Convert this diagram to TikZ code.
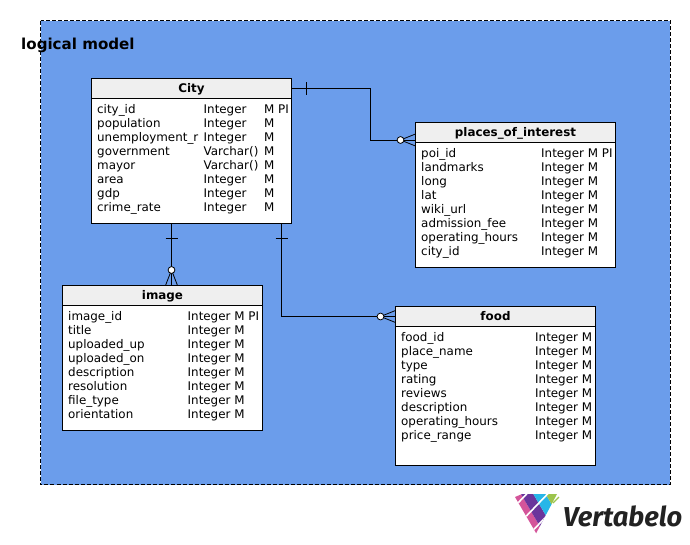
\documentclass[tikz,border=0pt]{standalone}
\usepackage{fontspec}
\setmainfont{DejaVu Sans}
\newfontfamily\logofont{Fira Sans}
\definecolor{areablue}{HTML}{6B9DEB}
\definecolor{headgrey}{HTML}{EFEFEF}
\definecolor{lgpink}{HTML}{D4559A}
\definecolor{lgpurple}{HTML}{6A359C}
\definecolor{lgcyan}{HTML}{27B6E8}
\definecolor{lggreen}{HTML}{9CC44C}
\definecolor{lgtext}{HTML}{222222}
\tikzset{
  x=1pt,y=-1pt,
  area/.style={draw=black,dash pattern=on 4pt off 2pt,fill=areablue,line width=0.8pt},
  tablebox/.style={draw=black,fill=white,line width=0.9pt,minimum width=200pt,anchor=north west,inner sep=0pt,outer sep=0pt},
  tablehead/.style={draw=black,fill=headgrey,line width=0.9pt,minimum width=200pt,minimum height=20pt,text height=9.5pt,text depth=1pt,anchor=north west,inner sep=0pt,outer sep=0pt,font=\fontsize{11.9}{13}\selectfont\bfseries},
  celltext/.style={anchor=base west,inner sep=0pt,font=\fontsize{11.9}{13}\selectfont},
  link/.style={draw=black,line width=0.9pt},
  prong/.style={draw=black,line width=0.8pt},
  opt/.style={draw=black,fill=white,line width=0.8pt},
  lgstripe/.style={white,line width=1.6pt},
}
\newcommand{\rowlist}[4]{% x1, first baseline, x2, list
  \foreach \na/\ty [count=\i from 0] in {#4}{
    \node[celltext] at (#1,#2+\i*14) {\na};
    \node[celltext] at (#3,#2+\i*14) {\ty};
  }
}
% logo cell: u0,v0,u1,v1,colour
\newcommand{\lgcell}[5]{
  \fill[#5] (515+4.8*#1+7*#2,497-5*#1+12*#2) -- (515+4.8*#3+7*#2,497-5*#3+12*#2)
    -- (515+4.8*#3+7*#4,497-5*#3+12*#4) -- (515+4.8*#1+7*#4,497-5*#1+12*#4) -- cycle;
}
\begin{document}
\begin{tikzpicture}
\useasboundingbox (0,0) rectangle (690,544);
\fill[white] (0,0) rectangle (690,544);
\draw[area] (40.5,20.5) rectangle (670,484.5);
\node[anchor=base west,inner sep=0pt,font=\fontsize{15.1}{17}\selectfont\bfseries] (title) at (21,49) {logical model};

% tables
\node[tablebox,minimum height=144.5pt] (city) at (91.5,78.5) {};
\node[tablehead] (cityhead) at (91.5,78.5) {City};
\node[tablebox,minimum height=145pt] (places) at (415.5,122.5) {};
\node[tablehead] (placeshead) at (415.5,122.5) {places\_of\_interest};
\node[tablebox,minimum height=145pt] (image) at (62.5,285.5) {};
\node[tablehead] (imagehead) at (62.5,285.5) {image};
\node[tablebox,minimum height=159pt] (food) at (395.5,306.5) {};
\node[tablehead] (foodhead) at (395.5,306.5) {food};

\rowlist{97}{113}{203.5}{city\_id/Integer,population/Integer,unemployment\_r/Integer,government/Varchar(),mayor/Varchar(),area/Integer,gdp/Integer,crime\_rate/Integer}
\foreach \i in {0,...,7}{\node[celltext] at (264,113+\i*14) {M};}
\node[celltext] at (278,113) {PI};
\rowlist{421}{157}{541}{poi\_id/Integer M PI,landmarks/Integer M,long/Integer M,lat/Integer M,wiki\_url/Integer M,admission\_fee/Integer M,operating\_hours/Integer M,city\_id/Integer M}
\rowlist{68}{320}{187.5}{image\_id/Integer M PI,title/Integer M,uploaded\_up/Integer M,uploaded\_on/Integer M,description/Integer M,resolution/Integer M,file\_type/Integer M,orientation/Integer M}
\rowlist{401}{341}{535}{food\_id/Integer M,place\_name/Integer M,type/Integer M,rating/Integer M,reviews/Integer M,description/Integer M,operating\_hours/Integer M,price\_range/Integer M}

% connector ends
\coordinate (pIn) at (415.5,140);
\coordinate (iIn) at (171.5,285.5);
\coordinate (cOut) at (281.5,223);
\coordinate (cDown) at (171.5,223);
\coordinate (fIn) at (395.5,316.5);

% city - places
\draw[link] (cityhead.east) -- (370.5,88.5) -- (370.5,140) -- (pIn);
\draw[link] (306,82) -- (306,95);
\draw[prong] (400.5,140) -- (415.5,134) (400.5,140) -- (415.5,146);
\draw[opt] (400.5,140) circle (3.4);
% city - image
\draw[link] (cDown) -- (iIn);
\draw[link] (165.5,238.5) -- (177.5,238.5);
\draw[prong] (171.5,270) -- (165.5,285.5) (171.5,270) -- (177.5,285.5);
\draw[opt] (171.5,270) circle (3.4);
% city - food
\draw[link] (cOut) -- (281.5,316.5) -- (fIn);
\draw[link] (275.5,238.5) -- (288,238.5);
\draw[prong] (380.5,316.5) -- (395.5,310.5) (380.5,316.5) -- (395.5,322.5);
\draw[opt] (380.5,316.5) circle (3.4);

% logo
\begin{scope}
\clip (515,497) -- (522,494) -- (557,494) -- (536,533.5) -- cycle;
\lgcell{0}{-1}{1}{0.47}{lgpink}
\lgcell{1}{-1}{2.6}{0.47}{lgpurple}
\lgcell{0}{0.47}{1}{1.6}{lgpink}
\lgcell{1}{0.47}{2.6}{1.6}{lgpurple}
\lgcell{2.6}{0.47}{4.2}{1.6}{lgcyan}
\lgcell{0}{1.6}{1}{2.7}{lgpink}
\lgcell{1}{1.6}{2.6}{2.7}{lgpurple}
\lgcell{2.6}{1.6}{4.2}{2.7}{lgcyan}
\lgcell{4.2}{1.6}{9}{2.7}{lggreen}
\lgcell{0}{2.7}{1}{4}{lgpink}
\lgcell{1}{2.7}{2.6}{4}{lgpurple}
\lgcell{2.6}{2.7}{9}{4}{lgcyan}
\draw[lgstripe] (515+7*0.47,497+12*0.47) -- ++(30,-31.2);
\draw[lgstripe] (515+7*1.6,497+12*1.6) -- ++(30,-31.2);
\draw[lgstripe] (515+7*2.7,497+12*2.7) -- ++(30,-31.2);
\end{scope}
\draw[lggreen,line width=1.2pt] (553,503) -- (559,497);
\node[anchor=base west,inner sep=0pt,text=lgtext,font=\logofont\fontsize{27.3}{30}\selectfont\bfseries\itshape] (logo) at (563,526) {Vertabelo};
\end{tikzpicture}
\end{document}
